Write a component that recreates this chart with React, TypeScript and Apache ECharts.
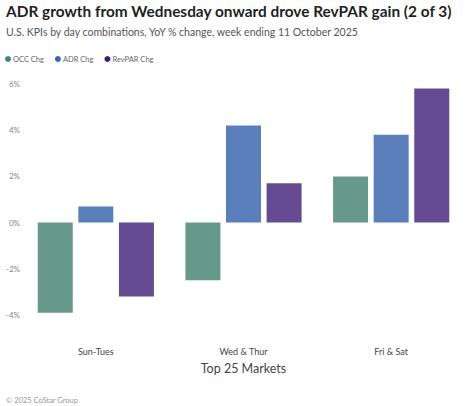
import * as echarts from 'echarts';
import React, { useEffect, useRef } from 'react';

const categories = ['Sun-Tues', 'Wed & Thur', 'Fri & Sat'];
const occChg = [-3.9, -2.5, 2.0];
const adrChg = [0.7, 4.2, 3.8];
const revparChg = [-3.2, 1.7, 5.8];

const FONT = 'Lato, "Noto Sans", sans-serif';

const App: React.FC = () => {
  const chartRef = useRef<HTMLDivElement>(null);

  useEffect(() => {
    document.body.style.margin = '0';
    if (!chartRef.current) return;
    const chart = echarts.init(chartRef.current, undefined, { renderer: 'svg' });

    const option: echarts.EChartsOption = {
      animation: false,
      textStyle: { fontFamily: FONT },
      title: [
        {
          text: 'ADR growth from Wednesday onward drove RevPAR gain (2 of 3)',
          left: 6,
          top: 3,
          padding: 0,
          textStyle: { fontFamily: FONT, fontSize: 15.4, fontWeight: 'bold', color: '#1f1f1f' },
        },
        {
          text: 'U.S. KPIs by day combinations, YoY % change, week ending 11 October 2025',
          left: 6,
          top: 26,
          padding: 0,
          textStyle: { fontFamily: FONT, fontSize: 10.5, fontWeight: 'normal', color: '#555' },
        },
        {
          text: '© 2025 CoStar Group',
          left: 6,
          top: 396,
          padding: 0,
          textStyle: { fontFamily: FONT, fontSize: 7.5, fontWeight: 'normal', color: '#999' },
        },
      ],
      legend: {
        left: 0,
        top: 50,
        icon: 'circle',
        itemWidth: 6,
        itemHeight: 6,
        itemGap: 11,
        textStyle: { fontFamily: FONT, fontSize: 7.5, color: '#666', padding: [0, 0, 0, -3] },
        data: [
          { name: 'OCC Chg', itemStyle: { color: '#3d8a6e' } },
          { name: 'ADR Chg', itemStyle: { color: '#3a63b3' } },
          { name: 'RevPAR Chg', itemStyle: { color: '#3b1d7d' } },
        ],
      },
      grid: { left: 22, top: 84, width: 452, height: 231, containLabel: false },
      xAxis: {
        type: 'category',
        data: categories,
        axisLine: { show: false },
        axisTick: { show: false },
        axisLabel: { margin: 32, fontSize: 9, color: '#444' },
        name: 'Top 25 Markets',
        nameLocation: 'middle',
        nameGap: 47,
        nameTextStyle: { fontSize: 12.5, color: '#444' },
      },
      yAxis: {
        type: 'value',
        min: -4,
        max: 6,
        interval: 2,
        axisLine: { show: false },
        axisTick: { show: false },
        splitLine: { show: false },
        axisLabel: { formatter: '{value}%', fontSize: 8, color: '#888', margin: 2 },
      },
      series: [
        {
          name: 'OCC Chg',
          type: 'bar',
          data: occChg,
          barWidth: 35,
          barGap: '16%',
          itemStyle: { color: '#67998b' },
        },
        {
          name: 'ADR Chg',
          type: 'bar',
          data: adrChg,
          barWidth: 35,
          barGap: '16%',
          itemStyle: { color: '#5b7fba' },
        },
        {
          name: 'RevPAR Chg',
          type: 'bar',
          data: revparChg,
          barWidth: 35,
          barGap: '16%',
          itemStyle: { color: '#644b92' },
        },
      ],
    };

    chart.setOption(option);
    return () => {
      chart.dispose();
    };
  }, []);

  return <div ref={chartRef} style={{ width: '465px', height: '406px' }} />;
};

export default App;
